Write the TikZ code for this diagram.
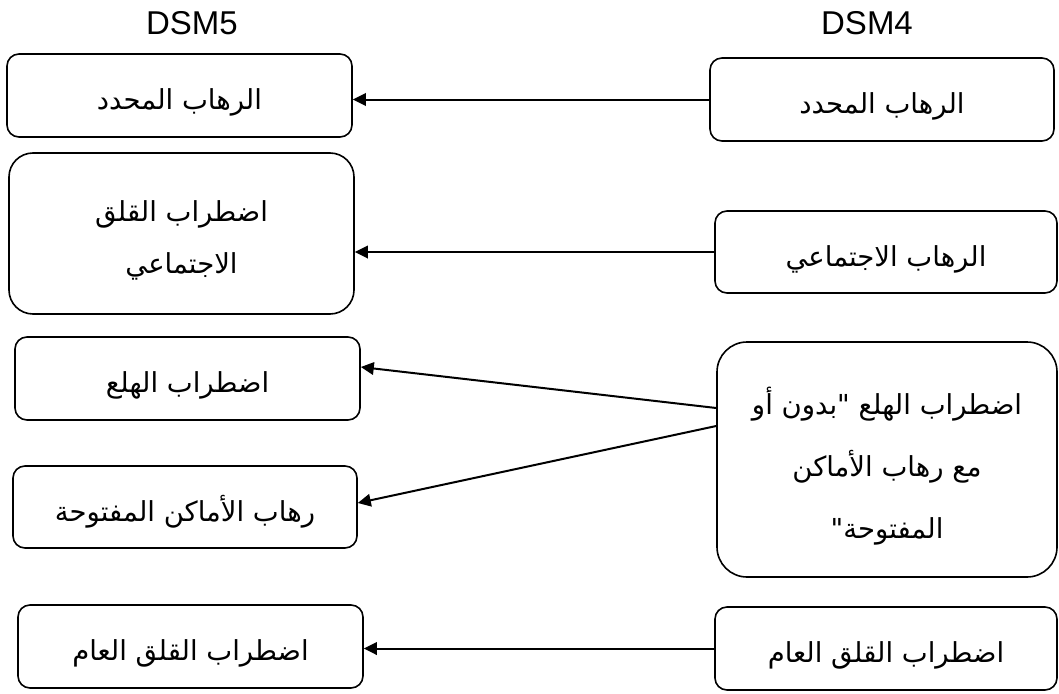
\documentclass[tikz,border=0pt]{standalone}
\usepackage{fontspec}
\setmainfont{Liberation Sans}
\newfontfamily\arabicfont[Script=Arabic]{DejaVu Sans}
\TeXXeTstate=1
\usetikzlibrary{arrows.meta}

\newcommand{\ar}[1]{\beginR #1\endR}

\begin{document}
\begin{tikzpicture}[x=1pt,y=-1pt,
  box/.style={draw, line width=1.6pt, rounded corners=12pt, inner sep=0pt,
    align=center, font=\arabicfont\fontsize{27.5}{52}\selectfont},
  oneline/.style={box, text height=28pt, text depth=0pt},
  label/.style={inner sep=0pt, align=center, font=\arabicfont\fontsize{27.5}{52}\selectfont},
  link/.style={line width=2pt, -{Triangle[length=13pt,width=12.5pt]}},
  head/.style={font=\fontsize{33}{38}\selectfont}]
\useasboundingbox (0,0) rectangle (1059,693);

% column headings
\node[head] (h5) at (192,23) {DSM5};
\node[head] (h4) at (867,23) {DSM4};

% DSM5 column
\node[oneline, minimum width=345pt, minimum height=83pt] (l1) at (179.5,95.5) {\ar{الرهاب المحدد}};
\node[box, rounded corners=24pt, minimum width=345pt, minimum height=161pt] (l2) at (181.5,233.5) {};
\node[label] (l2t) at ([yshift=-7pt]l2.center) {\ar{اضطراب القلق}\\ \ar{الاجتماعي}};
\node[oneline, minimum width=345pt, minimum height=83pt] (l3) at (187.5,378.5) {\ar{اضطراب الهلع}};
\node[oneline, minimum width=344pt, minimum height=82pt] (l4) at (185,507) {\ar{رهاب الأماكن المفتوحة}};
\node[oneline, minimum width=345pt, minimum height=83pt] (l5) at (190.5,646.5) {\ar{اضطراب القلق العام}};

% DSM4 column
\node[oneline, minimum width=344pt, minimum height=83pt] (r1) at (882,99.5) {\ar{الرهاب المحدد}};
\node[oneline, minimum width=342pt, minimum height=82pt] (r2) at (886,252) {\ar{الرهاب الاجتماعي}};
\node[box, rounded corners=30pt, minimum width=340pt, minimum height=235pt] (r3) at (887,459.5) {};
\node[label, font=\arabicfont\fontsize{27.5}{62}\selectfont] (r3t) at ([yshift=-7pt]r3.center)
  {\ar{اضطراب الهلع "بدون أو}\\ \ar{مع رهاب الأماكن}\\ \ar{المفتوحة"}};
\node[oneline, minimum width=342pt, minimum height=83pt] (r4) at (886,648.5) {\ar{اضطراب القلق العام}};

% connectors
\draw[link] (r1.west) -- (l1.east |- r1.west);
\draw[link] (r2.west) -- (l2.east |- r2.west);
\coordinate (r3a) at ([yshift=51.5pt]r3.west);
\coordinate (r3b) at ([yshift=33.5pt]r3.west);
\draw[link] (r3a) -- ([yshift=11.5pt]l3.east);
\draw[link] (r3b) -- ([yshift=4pt]l4.east);
\draw[link] (r4.west) -- (l5.east |- r4.west);
\end{tikzpicture}
\end{document}
